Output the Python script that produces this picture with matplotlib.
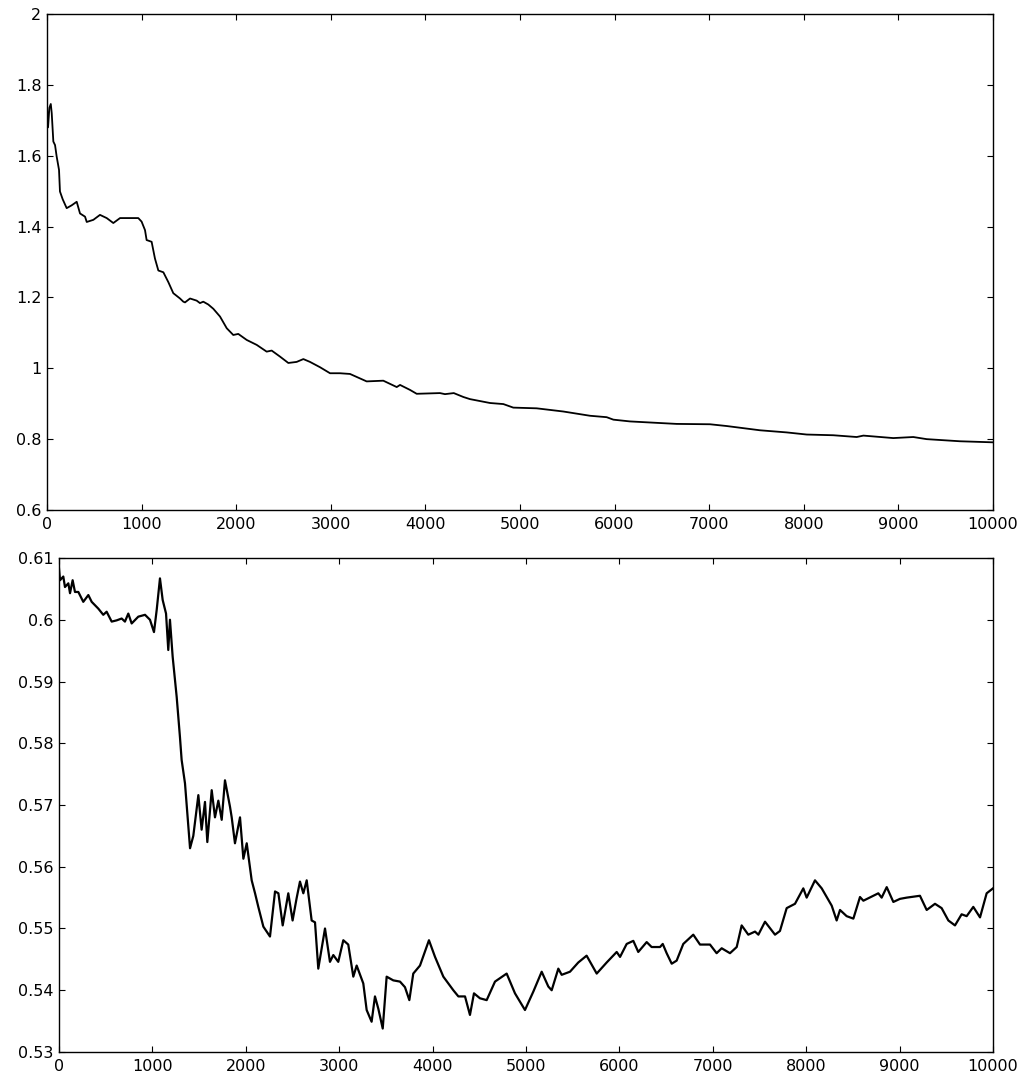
import matplotlib
matplotlib.use("Agg")
import matplotlib.pyplot as plt

plt.rcParams['font.family'] = ['DejaVu Sans']

# ---------------- data: top panel ----------------
top_x = [0, 11, 25, 40, 50, 67, 85, 102, 127, 137, 166, 208, 261, 314, 349, 402, 420,
         490, 560, 631, 701, 772, 842, 965, 1000, 1036, 1053, 1106, 1141, 1177, 1230,
         1283, 1335, 1406, 1441, 1459, 1512, 1582, 1617, 1652, 1705, 1758, 1829, 1900,
         1969, 2022, 2111, 2217, 2322, 2375, 2463, 2551, 2639, 2710, 2780, 2886, 2992,
         3097, 3203, 3379, 3555, 3697, 3732, 3837, 3908, 4154, 4207, 4300, 4401, 4471,
         4683, 4824, 4929, 5176, 5458, 5740, 5916, 5987, 6163, 6374, 6656, 7008, 7185,
         7537, 7819, 8031, 8312, 8559, 8630, 8946, 9157, 9299, 9651, 10000]
top_y = [1.738, 1.68, 1.735, 1.746, 1.72, 1.64, 1.63, 1.598, 1.56, 1.499, 1.477, 1.452,
         1.46, 1.47, 1.437, 1.428, 1.413, 1.419, 1.433, 1.424, 1.41, 1.424, 1.424,
         1.424, 1.414, 1.39, 1.362, 1.357, 1.31, 1.276, 1.271, 1.243, 1.212, 1.197,
         1.188, 1.186, 1.197, 1.191, 1.184, 1.188, 1.18, 1.168, 1.146, 1.113, 1.094,
         1.097, 1.08, 1.066, 1.047, 1.05, 1.033, 1.015, 1.018, 1.026, 1.018, 1.003,
         0.986, 0.986, 0.984, 0.963, 0.965, 0.947, 0.953, 0.939, 0.928, 0.93, 0.927,
         0.93, 0.919, 0.913, 0.902, 0.899, 0.889, 0.887, 0.878, 0.866, 0.862, 0.855,
         0.85, 0.847, 0.843, 0.842, 0.837, 0.825, 0.819, 0.813, 0.811, 0.806, 0.81,
         0.803, 0.806, 0.8, 0.794, 0.791]

# ---------------- data: bottom panel ----------------
bot_x = [0, 11, 46, 64, 100, 118, 146, 171, 207, 260, 314, 350, 421, 474, 510, 564,
         617, 671, 706, 742, 778, 849, 921, 974, 1017, 1046, 1081, 1110, 1146, 1170,
         1188, 1217, 1260, 1295, 1313, 1349, 1403, 1438, 1492, 1527, 1563, 1588, 1635,
         1670, 1706, 1742, 1777, 1831, 1849, 1884, 1938, 1974, 2010, 2063, 2099, 2134,
         2188, 2259, 2313, 2349, 2395, 2455, 2501, 2544, 2580, 2616, 2652, 2705, 2741,
         2776, 2848, 2901, 2937, 2990, 3044, 3097, 3151, 3187, 3258, 3294, 3347, 3383,
         3419, 3466, 3508, 3579, 3651, 3704, 3751, 3793, 3865, 3961, 4026, 4115, 4222,
         4276, 4347, 4400, 4443, 4507, 4579, 4668, 4793, 4882, 4989, 5079, 5168, 5239,
         5275, 5346, 5382, 5471, 5560, 5649, 5757, 5864, 5971, 6007, 6078, 6149, 6202,
         6292, 6345, 6435, 6464, 6506, 6560, 6613, 6684, 6791, 6863, 6970, 7041, 7095,
         7184, 7256, 7309, 7380, 7452, 7488, 7559, 7666, 7719, 7791, 7880, 7969, 8005,
         8094, 8166, 8273, 8326, 8362, 8433, 8505, 8576, 8612, 8719, 8772, 8808, 8862,
         8933, 9004, 9076, 9218, 9290, 9379, 9450, 9522, 9593, 9664, 9718, 9789, 9861,
         9932, 10000]
bot_y = [0.6083, 0.6064, 0.607, 0.6053, 0.6059, 0.6043, 0.6064, 0.6045, 0.6045, 0.6029,
         0.604, 0.6029, 0.6018, 0.6008, 0.6013, 0.5997, 0.5999, 0.6002, 0.5997, 0.601,
         0.5994, 0.6005, 0.6008, 0.6, 0.598, 0.6016, 0.6067, 0.6032, 0.601, 0.5951,
         0.6, 0.594, 0.5875, 0.581, 0.5773, 0.5735, 0.563, 0.565, 0.5716, 0.566,
         0.5705, 0.564, 0.5724, 0.568, 0.5707, 0.5676, 0.574, 0.5697, 0.568, 0.5638,
         0.568, 0.5613, 0.5638, 0.5578, 0.5557, 0.5535, 0.5503, 0.5487, 0.556, 0.5557,
         0.5505, 0.5557, 0.5513, 0.5549, 0.5576, 0.5557, 0.5578, 0.5513, 0.551, 0.5435,
         0.55, 0.5446, 0.5457, 0.5446, 0.5481, 0.5474, 0.5422, 0.544, 0.5411, 0.5368,
         0.5349, 0.539, 0.537, 0.5338, 0.5422, 0.5416, 0.5414, 0.5405, 0.5384, 0.5427,
         0.544, 0.5481, 0.5454, 0.5422, 0.54, 0.539, 0.539, 0.536, 0.5395, 0.5387,
         0.5384, 0.5414, 0.5427, 0.5395, 0.5368, 0.5398, 0.543, 0.5406, 0.54, 0.5435,
         0.5425, 0.543, 0.5445, 0.5456, 0.5427, 0.5445, 0.5462, 0.5454, 0.5475, 0.548,
         0.5462, 0.5478, 0.547, 0.547, 0.5475, 0.546, 0.5443, 0.5448, 0.5475, 0.549,
         0.5474, 0.5474, 0.546, 0.5468, 0.546, 0.547, 0.5505, 0.549, 0.5495, 0.549,
         0.5511, 0.549, 0.5496, 0.5533, 0.554, 0.5565, 0.555, 0.5578, 0.5565, 0.5537,
         0.5513, 0.553, 0.552, 0.5516, 0.5551, 0.5545, 0.5553, 0.5557, 0.555, 0.5567,
         0.5543, 0.5548, 0.555, 0.5553, 0.553, 0.554, 0.5533, 0.5513, 0.5505, 0.5523,
         0.552, 0.5535, 0.5518, 0.5557, 0.5565]

x_ticks = [0, 1000, 2000, 3000, 4000, 5000, 6000, 7000, 8000, 9000, 10000]
x_tick_labels = ['0', '1000', '2000', '3000', '4000', '5000', '6000', '7000', '8000',
                 '9000', '10000']
top_y_ticks = [0.6, 0.8, 1.0, 1.2, 1.4, 1.6, 1.8, 2.0]
top_y_tick_labels = ['0.6', '0.8', '1', '1.2', '1.4', '1.6', '1.8', '2']
bot_y_ticks = [0.53, 0.54, 0.55, 0.56, 0.57, 0.58, 0.59, 0.60, 0.61]
bot_y_tick_labels = ['0.53', '0.54', '0.55', '0.56', '0.57', '0.58', '0.59', '0.6', '0.61']

W, H = 1025, 1072
fig = plt.figure(figsize=(W / 100, H / 100), dpi=100)

def px_axes(left, top, right, bottom):
    return fig.add_axes([left / W, 1 - bottom / H, (right - left) / W, (bottom - top) / H])

ax1 = px_axes(47, 14, 993, 510)
ax2 = px_axes(59, 558, 993, 1052)

ax1.plot(top_x, top_y, color='black', lw=1.3)
ax2.plot(bot_x, bot_y, color='black', lw=1.6)

for ax, yt, ytl, ylim in [(ax1, top_y_ticks, top_y_tick_labels, (0.6, 2.0)),
                          (ax2, bot_y_ticks, bot_y_tick_labels, (0.53, 0.61))]:
    ax.set_xlim(0, 10000)
    ax.set_ylim(*ylim)
    ax.set_xticks(x_ticks)
    ax.set_xticklabels(x_tick_labels)
    ax.set_yticks(yt)
    ax.set_yticklabels(ytl)
    ax.tick_params(direction='in', length=4.5, width=0.8, top=True, right=True,
                   labelsize=11.5, colors='black')
    ax.tick_params(axis='x', pad=5)
    ax.tick_params(axis='y', pad=4)
    for s in ax.spines.values():
        s.set_linewidth(1.0)
        s.set_color('black')

fig.savefig('out.png', dpi=100)
